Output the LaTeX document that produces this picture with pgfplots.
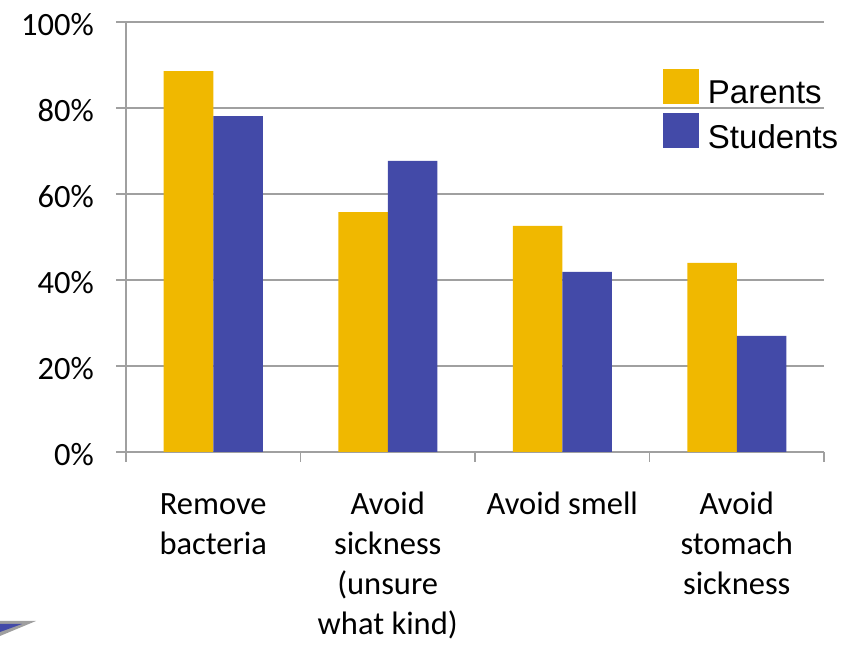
\documentclass[border=0pt]{standalone}
\usepackage{fontspec}
\setmainfont{Carlito}
\newfontfamily\legendfont{Liberation Sans}
\usepackage{pgfplots}
\pgfplotsset{compat=1.18}
\definecolor{parents}{RGB}{240,184,0}
\definecolor{students}{RGB}{67,74,168}
\definecolor{gridgray}{RGB}{160,160,160}
\begin{document}
\begin{tikzpicture}
\useasboundingbox (0,0) rectangle (846pt,645pt);
\fill[gray!75] (0,24pt) -- (36pt,24pt) -- (0,9pt) -- cycle;
\fill[students] (0,21pt) -- (22pt,21pt) -- (0,13pt) -- cycle;
\begin{axis}[
  at={(126pt,193pt)}, anchor=south west,
  scale only axis, width=698pt, height=430pt,
  ybar=0pt, bar width=49.5pt,
  xmin=-0.5, xmax=3.5, ymin=0, ymax=100,
  axis lines=left, axis line style={-, gridgray, line width=1.3pt},
  tick align=outside,
  xtick={0,1,2,3},
  xticklabels={{\vphantom{Ad}Remove\\bacteria},{\vphantom{Ad}Avoid\\sickness\\(unsure\\what kind)},{\vphantom{Ad}Avoid smell},{\vphantom{Ad}Avoid\\stomach\\sickness}},
  major x tick style={draw=none},
  minor xtick={-0.5,0.5,1.5,2.5,3.5},
  minor x tick style={gridgray, line width=1.3pt},
  minor tick length=10pt,
  ytick={0,20,40,60,80,100},
  yticklabels={0\%,20\%,40\%,60\%,80\%,100\%},
  major tick length=10pt,
  y tick style={gridgray, line width=1.3pt},
  ymajorgrids, grid style={gridgray, line width=1.3pt},
  xticklabel style={font=\fontsize{32.5}{40}\selectfont, align=center, anchor=north, inner sep=0pt, yshift=-30pt},
  yticklabel style={font=\fontsize{32.5}{38}\selectfont, anchor=east, inner sep=0pt, xshift=-22pt, yshift=-3pt},
  legend style={at={(0.7693,0.8907)}, anchor=north west, draw=none, fill=none,
    inner sep=0pt, outer sep=0pt,
    font=\legendfont\fontsize{33}{38}\selectfont,
    nodes={inner sep=0pt, text height=23.6pt, text depth=0pt}, row sep=9.5pt,
    /tikz/every odd column/.append style={column sep=9pt}},
  legend cell align=left,
  legend image code/.code={\fill[#1] (0pt,-11.8pt) rectangle (36pt,23.2pt);},
]
\addplot[fill=parents, draw=none] coordinates {(0,88.6) (1,55.8) (2,52.6) (3,44)};
\addplot[fill=students, draw=none] coordinates {(0,78.1) (1,67.7) (2,41.9) (3,27)};
\legend{Parents,Students}
\end{axis}
\end{tikzpicture}
\end{document}
